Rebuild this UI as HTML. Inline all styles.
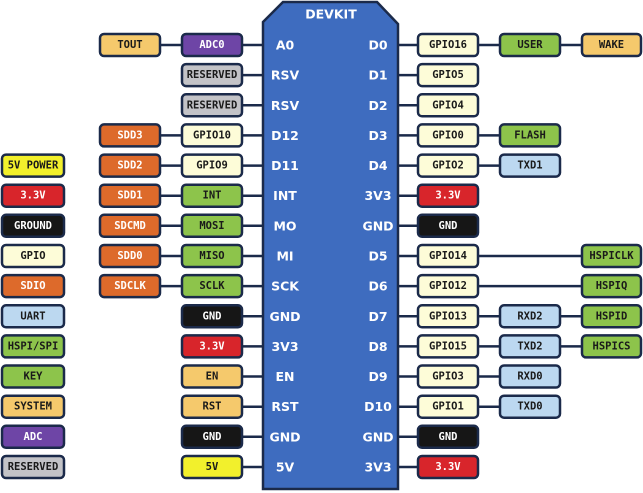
<!DOCTYPE html>
<html><head><meta charset="utf-8"><style>
html,body{margin:0;padding:0;background:#fff;}
svg{display:block;}
.b{stroke:#1b2a4a;stroke-width:2.5;}
.t{font-family:"DejaVu Sans Mono","Liberation Mono",monospace;font-weight:bold;font-size:10.5px;text-anchor:middle;dominant-baseline:central;}
.p{font-family:"DejaVu Sans","Liberation Sans",sans-serif;font-weight:bold;font-size:12.5px;fill:#fff;text-anchor:middle;dominant-baseline:central;}
.l{stroke:#1b2a4a;stroke-width:2.5;}
.sys{fill:#f5c96c}.adc{fill:#6e45a6}.res{fill:#c3c3c7}.gp{fill:#fdfcd8}.sd{fill:#dd6a2b}.gr{fill:#8dc44b}.ua{fill:#bcd8f0}.v3{fill:#d8252b}.gn{fill:#161616}.v5{fill:#f2f02c}
.w{fill:#fff}.k{fill:#1a1a1a}
</style></head><body>
<svg width="643" height="493" viewBox="0 0 643 493">
<!-- connector lines -->
<g class="l">
<line x1="160" y1="45" x2="263" y2="45"/>
<line x1="242" y1="75.1" x2="263" y2="75.1"/>
<line x1="242" y1="105.3" x2="263" y2="105.3"/>
<line x1="160" y1="135.4" x2="263" y2="135.4"/>
<line x1="160" y1="165.6" x2="263" y2="165.6"/>
<line x1="160" y1="195.7" x2="263" y2="195.7"/>
<line x1="160" y1="225.8" x2="263" y2="225.8"/>
<line x1="160" y1="256" x2="263" y2="256"/>
<line x1="160" y1="286.1" x2="263" y2="286.1"/>
<line x1="242" y1="316.3" x2="263" y2="316.3"/>
<line x1="242" y1="346.4" x2="263" y2="346.4"/>
<line x1="242" y1="376.5" x2="263" y2="376.5"/>
<line x1="242" y1="406.7" x2="263" y2="406.7"/>
<line x1="242" y1="436.8" x2="263" y2="436.8"/>
<line x1="242" y1="467" x2="263" y2="467"/>
<line x1="399" y1="45" x2="582" y2="45"/>
<line x1="399" y1="75.1" x2="418" y2="75.1"/>
<line x1="399" y1="105.3" x2="418" y2="105.3"/>
<line x1="399" y1="135.4" x2="500" y2="135.4"/>
<line x1="399" y1="165.6" x2="500" y2="165.6"/>
<line x1="399" y1="195.7" x2="418" y2="195.7"/>
<line x1="399" y1="225.8" x2="418" y2="225.8"/>
<line x1="399" y1="256" x2="582" y2="256"/>
<line x1="399" y1="286.1" x2="582" y2="286.1"/>
<line x1="399" y1="316.3" x2="582" y2="316.3"/>
<line x1="399" y1="346.4" x2="582" y2="346.4"/>
<line x1="399" y1="376.5" x2="500" y2="376.5"/>
<line x1="399" y1="406.7" x2="500" y2="406.7"/>
<line x1="399" y1="436.8" x2="418" y2="436.8"/>
<line x1="399" y1="467" x2="418" y2="467"/>
</g>
<!-- board -->
<path d="M263 22 L283 2 L377 2 L398 24 L398 489 L263 489 Z" fill="#3e6cbf" stroke="#1b2a4a" stroke-width="2.5"/>
<text class="p" x="331" y="14">DEVKIT</text>
<g class="p">
<text x="285" y="45">A0</text><text x="285" y="75.1">RSV</text><text x="285" y="105.3">RSV</text><text x="285" y="135.4">D12</text><text x="285" y="165.6">D11</text><text x="285" y="195.7">INT</text><text x="285" y="225.8">MO</text><text x="285" y="256">MI</text><text x="285" y="286.1">SCK</text><text x="285" y="316.3">GND</text><text x="285" y="346.4">3V3</text><text x="285" y="376.5">EN</text><text x="285" y="406.7">RST</text><text x="285" y="436.8">GND</text><text x="285" y="467">5V</text>
<text x="378" y="45">D0</text><text x="378" y="75.1">D1</text><text x="378" y="105.3">D2</text><text x="378" y="135.4">D3</text><text x="378" y="165.6">D4</text><text x="378" y="195.7">3V3</text><text x="378" y="225.8">GND</text><text x="378" y="256">D5</text><text x="378" y="286.1">D6</text><text x="378" y="316.3">D7</text><text x="378" y="346.4">D8</text><text x="378" y="376.5">D9</text><text x="378" y="406.7">D10</text><text x="378" y="436.8">GND</text><text x="378" y="467">3V3</text>
</g>
<!-- left column B (x182) -->
<rect class="b adc" x="182" y="34" width="60" height="22" rx="4"/><text class="t w" x="212" y="45">ADC0</text>
<rect class="b res" x="182" y="64.1" width="60" height="22" rx="4"/><text class="t k" x="212" y="75.1">RESERVED</text>
<rect class="b res" x="182" y="94.3" width="60" height="22" rx="4"/><text class="t k" x="212" y="105.3">RESERVED</text>
<rect class="b gp" x="182" y="124.4" width="60" height="22" rx="4"/><text class="t k" x="212" y="135.4">GPIO10</text>
<rect class="b gp" x="182" y="154.6" width="60" height="22" rx="4"/><text class="t k" x="212" y="165.6">GPIO9</text>
<rect class="b gr" x="182" y="184.7" width="60" height="22" rx="4"/><text class="t k" x="212" y="195.7">INT</text>
<rect class="b gr" x="182" y="214.8" width="60" height="22" rx="4"/><text class="t k" x="212" y="225.8">MOSI</text>
<rect class="b gr" x="182" y="245" width="60" height="22" rx="4"/><text class="t k" x="212" y="256">MISO</text>
<rect class="b gr" x="182" y="275.1" width="60" height="22" rx="4"/><text class="t k" x="212" y="286.1">SCLK</text>
<rect class="b gn" x="182" y="305.3" width="60" height="22" rx="4"/><text class="t w" x="212" y="316.3">GND</text>
<rect class="b v3" x="182" y="335.4" width="60" height="22" rx="4"/><text class="t w" x="212" y="346.4">3.3V</text>
<rect class="b sys" x="182" y="365.5" width="60" height="22" rx="4"/><text class="t k" x="212" y="376.5">EN</text>
<rect class="b sys" x="182" y="395.7" width="60" height="22" rx="4"/><text class="t k" x="212" y="406.7">RST</text>
<rect class="b gn" x="182" y="425.8" width="60" height="22" rx="4"/><text class="t w" x="212" y="436.8">GND</text>
<rect class="b v5" x="182" y="456" width="60" height="22" rx="4"/><text class="t k" x="212" y="467">5V</text>
<!-- left column A (x100) -->
<rect class="b sys" x="100" y="34" width="60" height="22" rx="4"/><text class="t k" x="130" y="45">TOUT</text>
<rect class="b sd" x="100" y="124.4" width="60" height="22" rx="4"/><text class="t w" x="130" y="135.4">SDD3</text>
<rect class="b sd" x="100" y="154.6" width="60" height="22" rx="4"/><text class="t w" x="130" y="165.6">SDD2</text>
<rect class="b sd" x="100" y="184.7" width="60" height="22" rx="4"/><text class="t w" x="130" y="195.7">SDD1</text>
<rect class="b sd" x="100" y="214.8" width="60" height="22" rx="4"/><text class="t w" x="130" y="225.8">SDCMD</text>
<rect class="b sd" x="100" y="245" width="60" height="22" rx="4"/><text class="t w" x="130" y="256">SDD0</text>
<rect class="b sd" x="100" y="275.1" width="60" height="22" rx="4"/><text class="t w" x="130" y="286.1">SDCLK</text>
<!-- legend -->
<rect class="b v5" x="2" y="154.6" width="62" height="22" rx="4"/><text class="t k" x="33" y="165.6">5V POWER</text>
<rect class="b v3" x="2" y="184.7" width="62" height="22" rx="4"/><text class="t w" x="33" y="195.7">3.3V</text>
<rect class="b gn" x="2" y="214.8" width="62" height="22" rx="4"/><text class="t w" x="33" y="225.8">GROUND</text>
<rect class="b gp" x="2" y="245" width="62" height="22" rx="4"/><text class="t k" x="33" y="256">GPIO</text>
<rect class="b sd" x="2" y="275.1" width="62" height="22" rx="4"/><text class="t w" x="33" y="286.1">SDIO</text>
<rect class="b ua" x="2" y="305.3" width="62" height="22" rx="4"/><text class="t k" x="33" y="316.3">UART</text>
<rect class="b gr" x="2" y="335.4" width="62" height="22" rx="4"/><text class="t k" x="33" y="346.4">HSPI/SPI</text>
<rect class="b gr" x="2" y="365.5" width="62" height="22" rx="4"/><text class="t k" x="33" y="376.5">KEY</text>
<rect class="b sys" x="2" y="395.7" width="62" height="22" rx="4"/><text class="t k" x="33" y="406.7">SYSTEM</text>
<rect class="b adc" x="2" y="425.8" width="62" height="22" rx="4"/><text class="t w" x="33" y="436.8">ADC</text>
<rect class="b res" x="2" y="456" width="62" height="22" rx="4"/><text class="t k" x="33" y="467">RESERVED</text>
<!-- right column C (x418) -->
<rect class="b gp" x="418" y="34" width="60" height="22" rx="4"/><text class="t k" x="448" y="45">GPIO16</text>
<rect class="b gp" x="418" y="64.1" width="60" height="22" rx="4"/><text class="t k" x="448" y="75.1">GPIO5</text>
<rect class="b gp" x="418" y="94.3" width="60" height="22" rx="4"/><text class="t k" x="448" y="105.3">GPIO4</text>
<rect class="b gp" x="418" y="124.4" width="60" height="22" rx="4"/><text class="t k" x="448" y="135.4">GPIO0</text>
<rect class="b gp" x="418" y="154.6" width="60" height="22" rx="4"/><text class="t k" x="448" y="165.6">GPIO2</text>
<rect class="b v3" x="418" y="184.7" width="60" height="22" rx="4"/><text class="t w" x="448" y="195.7">3.3V</text>
<rect class="b gn" x="418" y="214.8" width="60" height="22" rx="4"/><text class="t w" x="448" y="225.8">GND</text>
<rect class="b gp" x="418" y="245" width="60" height="22" rx="4"/><text class="t k" x="448" y="256">GPIO14</text>
<rect class="b gp" x="418" y="275.1" width="60" height="22" rx="4"/><text class="t k" x="448" y="286.1">GPIO12</text>
<rect class="b gp" x="418" y="305.3" width="60" height="22" rx="4"/><text class="t k" x="448" y="316.3">GPIO13</text>
<rect class="b gp" x="418" y="335.4" width="60" height="22" rx="4"/><text class="t k" x="448" y="346.4">GPIO15</text>
<rect class="b gp" x="418" y="365.5" width="60" height="22" rx="4"/><text class="t k" x="448" y="376.5">GPIO3</text>
<rect class="b gp" x="418" y="395.7" width="60" height="22" rx="4"/><text class="t k" x="448" y="406.7">GPIO1</text>
<rect class="b gn" x="418" y="425.8" width="60" height="22" rx="4"/><text class="t w" x="448" y="436.8">GND</text>
<rect class="b v3" x="418" y="456" width="60" height="22" rx="4"/><text class="t w" x="448" y="467">3.3V</text>
<!-- right column D (x500) -->
<rect class="b gr" x="500" y="34" width="60" height="22" rx="4"/><text class="t k" x="530" y="45">USER</text>
<rect class="b gr" x="500" y="124.4" width="60" height="22" rx="4"/><text class="t k" x="530" y="135.4">FLASH</text>
<rect class="b ua" x="500" y="154.6" width="60" height="22" rx="4"/><text class="t k" x="530" y="165.6">TXD1</text>
<rect class="b ua" x="500" y="305.3" width="60" height="22" rx="4"/><text class="t k" x="530" y="316.3">RXD2</text>
<rect class="b ua" x="500" y="335.4" width="60" height="22" rx="4"/><text class="t k" x="530" y="346.4">TXD2</text>
<rect class="b ua" x="500" y="365.5" width="60" height="22" rx="4"/><text class="t k" x="530" y="376.5">RXD0</text>
<rect class="b ua" x="500" y="395.7" width="60" height="22" rx="4"/><text class="t k" x="530" y="406.7">TXD0</text>
<!-- right column E (x582) -->
<rect class="b sys" x="582" y="34" width="59" height="22" rx="4"/><text class="t k" x="611.5" y="45">WAKE</text>
<rect class="b gr" x="582" y="245" width="59" height="22" rx="4"/><text class="t k" x="611.5" y="256">HSPICLK</text>
<rect class="b gr" x="582" y="275.1" width="59" height="22" rx="4"/><text class="t k" x="611.5" y="286.1">HSPIQ</text>
<rect class="b gr" x="582" y="305.3" width="59" height="22" rx="4"/><text class="t k" x="611.5" y="316.3">HSPID</text>
<rect class="b gr" x="582" y="335.4" width="59" height="22" rx="4"/><text class="t k" x="611.5" y="346.4">HSPICS</text>
</svg>
</body></html>
